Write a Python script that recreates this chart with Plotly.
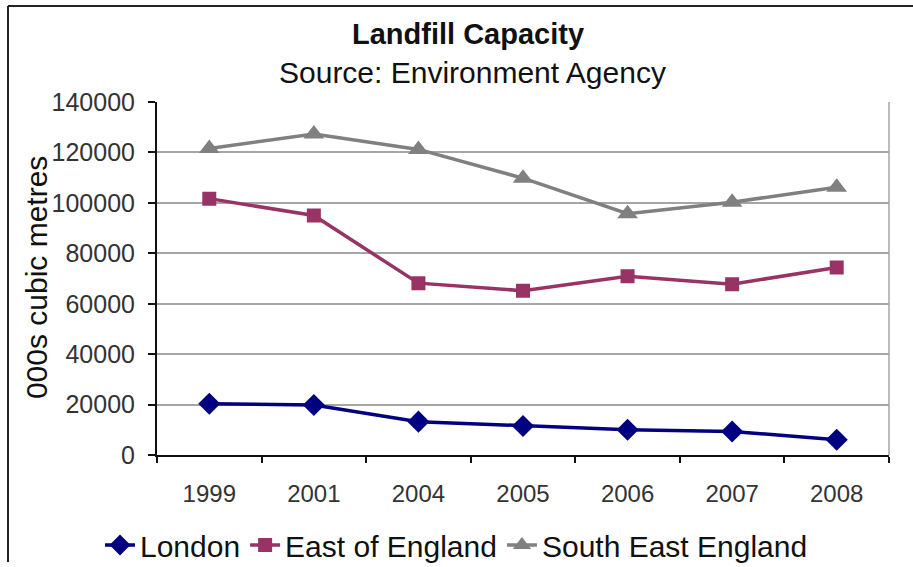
import plotly.graph_objects as go

# Landfill capacity by region (thousand cubic metres)
years = ["1999", "2001", "2004", "2005", "2006", "2007", "2008"]
london = [20400, 19900, 13300, 11600, 10100, 9400, 6100]
east_of_england = [101700, 95000, 68200, 65200, 70900, 67800, 74400]
south_east_england = [121600, 127300, 121200, 109800, 95700, 100300, 106200]
y_ticks = [0, 20000, 40000, 60000, 80000, 100000, 120000, 140000]

FONT = "Liberation Sans, Arial, sans-serif"

# plot-area geometry in pixels
W, H = 913, 567
L, R, T, B = 157, 24, 102, 108
PW, PH = W - L - R, H - T - B


def px_x(x):
    return (x - L) / PW


def px_y(y):
    return (H - B - y) / PH


fig = go.Figure()

series = [
    ("London", london, "#000080", "diamond", 17),
    ("East of England", east_of_england, "#993366", "square", 14),
    ("South East England", south_east_england, "#808080", "triangle-up", 18),
]
for name, vals, color, symbol, size in series:
    fig.add_trace(go.Scatter(
        x=years, y=vals, name=name, mode="lines+markers",
        line=dict(color=color, width=3.5),
        marker=dict(symbol=symbol, size=size, color=color, line=dict(width=0)),
    ))

fig.update_layout(
    width=W, height=H,
    margin=dict(l=L, r=R, t=T, b=B),
    paper_bgcolor="white", plot_bgcolor="white",
    font=dict(family=FONT, color="#222222"),
    showlegend=True,
    legend=dict(
        orientation="h", xref="container", yref="container",
        x=0.5, xanchor="center", y=1 - 545 / H, yanchor="middle",
        font=dict(size=30, color="#111111"),
        itemwidth=30, tracegroupgap=0,
    ),
    xaxis=dict(
        type="category", tickson="boundaries",
        ticks="outside", ticklen=6, tickcolor="#111111", tickwidth=1.5,
        showline=True, linecolor="#111111", linewidth=2,
        showgrid=False, zeroline=False,
        tickfont=dict(size=24, color="#333333"),
        ticklabelstandoff=16,
        range=[-0.5, 6.5],
    ),
    yaxis=dict(
        range=[0, 140000], tickvals=y_ticks,
        ticktext=[str(v) for v in y_ticks],
        ticks="outside", ticklen=7, tickcolor="#111111", tickwidth=1.5,
        showline=True, linecolor="#111111", linewidth=2,
        showgrid=True, gridcolor="#a6a6a6", gridwidth=1.5,
        zeroline=False,
        tickfont=dict(size=25, color="#333333"),
        ticklabelstandoff=8,
    ),
    annotations=[
        dict(text="<b>Landfill Capacity</b>", xref="paper", yref="paper",
             x=px_x(468), y=px_y(33), xanchor="center", yanchor="middle",
             showarrow=False, font=dict(size=29, color="#111111")),
        dict(text="Source: Environment Agency", xref="paper", yref="paper",
             x=px_x(472), y=px_y(72), xanchor="center", yanchor="middle",
             showarrow=False, font=dict(size=30, color="#111111")),
        dict(text="000s cubic metres", xref="paper", yref="paper",
             x=px_x(36), y=px_y(280), xanchor="center", yanchor="middle",
             textangle=-90, showarrow=False,
             font=dict(size=30, color="#111111")),
    ],
    shapes=[
        # gray right edge of the plot area
        dict(type="line", xref="paper", yref="paper", x0=1, x1=1, y0=0, y1=1,
             line=dict(color="#a6a6a6", width=1.5)),
        # outer chart frame (top and left edges)
        dict(type="line", xref="paper", yref="paper",
             x0=px_x(8), x1=px_x(913), y0=px_y(5), y1=px_y(5),
             line=dict(color="#222222", width=2)),
        dict(type="line", xref="paper", yref="paper",
             x0=px_x(8), x1=px_x(8), y0=px_y(5), y1=px_y(567),
             line=dict(color="#222222", width=2)),
    ],
)

fig.write_html("out.html")
